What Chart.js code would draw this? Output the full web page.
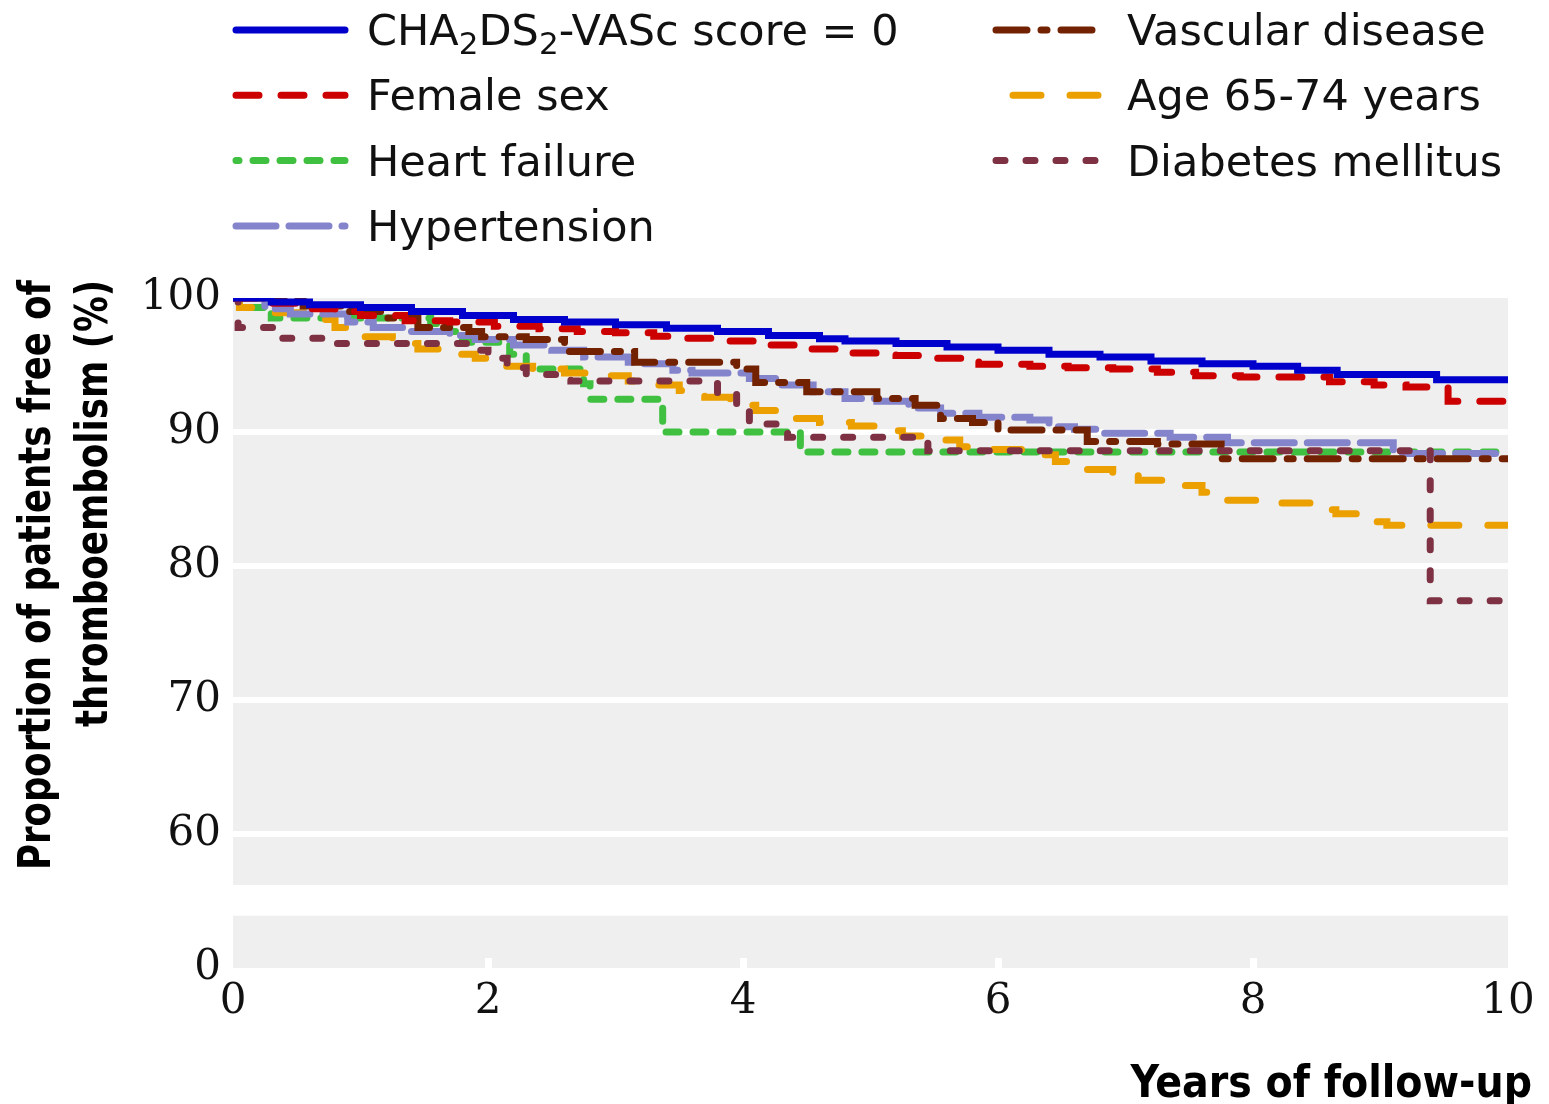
<!DOCTYPE html>
<html>
<head>
<meta charset="utf-8">
<script src="https://cdn.jsdelivr.net/npm/chart.js@4.4.1/dist/chart.umd.min.js"></script>
<style>
  html, body { margin: 0; padding: 0; background: #fff; }
</style>
</head>
<body>
<canvas id="kmChart" width="1549" height="1104"></canvas>
<script>
// axis ticks
const xTickValues = [0, 2, 4, 6, 8, 10];
const yTickValues = [50, 60, 70, 80, 90, 100];
const yTickLabels = ["0", "60", "70", "80", "90", "100"];
const yGridValues = [60, 70, 80, 90];
const axisBreak = [53.9, 56.2];

// series names (legend order)
const seriesNames = [
  "CHA\u2082DS\u2082-VASc score = 0",
  "Female sex",
  "Heart failure",
  "Hypertension",
  "Vascular disease",
  "Age 65-74 years",
  "Diabetes mellitus"
];

// Kaplan-Meier curves (years, % free of event)
const cha0Years = [0, 0.3, 0.6, 1.0, 1.4, 1.8, 2.2, 2.6, 3.0, 3.4, 3.8, 4.2, 4.6, 4.8, 5.2, 5.6, 6.0, 6.4, 6.8, 7.2, 7.6, 8.0, 8.35, 8.66, 9.44, 10];
const cha0Pct = [100, 99.7, 99.5, 99.3, 99.0, 98.7, 98.4, 98.2, 98.0, 97.75, 97.5, 97.2, 96.95, 96.8, 96.6, 96.35, 96.1, 95.8, 95.6, 95.3, 95.1, 94.9, 94.6, 94.3, 93.9, 93.9];

const femaleYears = [0, 0.2, 0.5, 0.8, 1.0, 1.35, 1.7, 2.05, 2.4, 2.7, 3.0, 3.3, 3.5, 3.85, 4.2, 4.5, 4.85, 5.2, 5.5, 5.85, 6.25, 6.55, 6.9, 7.25, 7.55, 7.9, 8.6, 8.95, 9.2, 9.53, 10];
const femalePct = [100, 99.6, 99.2, 99.0, 98.7, 98.3, 98.2, 97.9, 97.7, 97.5, 97.4, 97.15, 97.0, 96.8, 96.5, 96.2, 95.9, 95.7, 95.5, 95.05, 94.9, 94.8, 94.7, 94.45, 94.2, 94.1, 93.75, 93.5, 93.35, 92.3, 92.3];

const hfYears = [0, 0.05, 0.3, 1.55, 1.7, 1.8, 2.17, 2.3, 2.75, 2.8, 3.37, 4.45, 10];
const hfPct = [100, 99.3, 98.5, 98.1, 97.5, 96.7, 95.8, 94.7, 93.6, 92.45, 90.0, 88.5, 88.5];

const htnYears = [0, 0.25, 0.45, 0.9, 1.1, 1.35, 1.7, 1.9, 2.2, 2.5, 2.75, 3.1, 3.2, 3.45, 3.6, 4.05, 4.3, 4.55, 4.8, 5.05, 5.3, 5.55, 5.85, 6.25, 6.4, 6.6, 6.8, 7.35, 7.8, 9.1, 10];
const htnPct = [100, 99.2, 98.8, 98.2, 97.8, 97.5, 97.2, 96.9, 96.5, 96.1, 95.6, 95.2, 95.1, 94.6, 94.4, 94.0, 93.5, 93.0, 92.5, 92.3, 91.8, 91.4, 91.1, 90.9, 90.4, 90.2, 89.9, 89.6, 89.2, 88.4, 88.4];

const vascYears = [0, 0.55, 0.9, 1.2, 1.45, 1.85, 1.95, 2.3, 2.6, 3.15, 3.95, 4.1, 4.5, 5.05, 5.35, 5.55, 5.8, 6.0, 6.7, 7.25, 7.75, 10];
const vascPct = [100, 99.4, 99.0, 98.5, 97.8, 97.5, 97.1, 96.9, 96.0, 95.2, 94.7, 93.7, 93.0, 92.5, 92.0, 91.0, 90.7, 90.15, 89.3, 89.1, 88.0, 88.0];

const ageYears = [0, 0.05, 0.3, 0.55, 0.8, 1.0, 1.25, 1.45, 1.7, 1.9, 2.1, 2.35, 2.6, 2.85, 3.1, 3.3, 3.5, 3.7, 3.9, 4.1, 4.3, 4.6, 4.85, 5.05, 5.25, 5.5, 5.7, 5.95, 6.2, 6.45, 6.7, 6.9, 7.1, 7.35, 7.6, 7.8, 8.2, 8.5, 8.65, 8.85, 9.05, 10];
const agePct = [100, 99.3, 98.9, 98.4, 97.8, 97.1, 96.6, 96.2, 95.8, 95.5, 94.9, 94.7, 94.4, 94.2, 93.8, 93.5, 93.1, 92.6, 92.0, 91.6, 91.0, 90.7, 90.45, 90.1, 89.7, 89.4, 88.9, 88.7, 88.3, 87.8, 87.2, 86.8, 86.4, 86.0, 85.5, 84.9, 84.7, 84.2, 83.9, 83.3, 83.05, 83.05];

const dmYears = [0, 0.04, 0.38, 0.7, 1.85, 2.0, 2.15, 2.3, 2.65, 3.8, 3.95, 4.05, 4.35, 5.45, 9.39, 10];
const dmPct = [100, 97.8, 97.0, 96.6, 96.1, 95.5, 94.8, 94.3, 93.8, 92.9, 92.0, 90.6, 89.6, 88.6, 77.4, 77.4];

function toPoints(years, pct) {
  return years.map((t, i) => ({ x: t, y: pct[i] }));
}

const seriesData = [
  toPoints(cha0Years, cha0Pct),
  toPoints(femaleYears, femalePct),
  toPoints(hfYears, hfPct),
  toPoints(htnYears, htnPct),
  toPoints(vascYears, vascPct),
  toPoints(ageYears, agePct),
  toPoints(dmYears, dmPct)
];

// look of each curve
const lineColors = ["#0000cd", "#cc0000", "#40c040", "#8484cc", "#722200", "#eba000", "#7d3142"];
const lineDashes = [[], [23, 22], [13, 14], [40, 13], [31, 14, 6, 14], [28, 29], [9, 21]];
const legendDashOffsets = [0, 0, 10, 0, 0, 40, 0];
const drawOrder = [0, 1, 6, 4, 3, 5, 2];

const tickFont = { family: "'DejaVu Serif', serif", size: 42 };
const legendFontSize = 43;

// grey plot panel + white gap of the broken axis
const panel = {
  id: "panel",
  beforeDraw(chart) {
    const { ctx, chartArea: a } = chart;
    ctx.save();
    ctx.fillStyle = "#efefef";
    ctx.fillRect(a.left, a.top, a.right - a.left, a.bottom - a.top);
    ctx.restore();
  },
  beforeDatasetsDraw(chart) {
    const { ctx, chartArea: a } = chart;
    const y = chart.scales.y;
    const top = y.getPixelForValue(axisBreak[1]);
    const bottom = y.getPixelForValue(axisBreak[0]);
    ctx.save();
    ctx.fillStyle = "#fff";
    ctx.fillRect(a.left - 1, top, a.right - a.left + 2, bottom - top);
    ctx.restore();
  }
};

// draws a label, turning "₂" into a real lowered small 2
function drawLabel(ctx, text, x, y) {
  const big = legendFontSize + "px 'DejaVu Sans', sans-serif";
  const small = Math.round(legendFontSize * 0.72) + "px 'DejaVu Sans', sans-serif";
  text.split(/(\u2082)/).forEach(part => {
    if (!part) return;
    if (part === "\u2082") {
      ctx.font = small;
      ctx.fillText("2", x, y + 9);
      x += ctx.measureText("2").width;
    } else {
      ctx.font = big;
      ctx.fillText(part, x, y);
      x += ctx.measureText(part).width;
    }
  });
}

// two-column legend and axis titles
const decorations = {
  id: "decorations",
  afterDraw(chart) {
    const ctx = chart.ctx;

    chart.data.datasets.forEach((ds, i) => {
      const col = i < 4 ? 0 : 1;
      const row = i < 4 ? i : i - 4;
      const x0 = col ? 993 : 233;
      const y0 = 30 + row * 65.3;
      ctx.save();
      ctx.strokeStyle = ds.borderColor;
      ctx.lineWidth = 7;
      ctx.lineCap = "round";
      ctx.setLineDash(ds.borderDash);
      ctx.lineDashOffset = legendDashOffsets[i];
      ctx.beginPath();
      ctx.moveTo(x0 + 3, y0);
      ctx.lineTo(x0 + 112, y0);
      ctx.stroke();
      ctx.setLineDash([]);
      ctx.fillStyle = "#111";
      ctx.textBaseline = "alphabetic";
      drawLabel(ctx, ds.label, x0 + 134, y0 + 15);
      ctx.restore();
    });

    // y axis title, two lines, end-aligned at the top
    const titleFont = "bold 44px 'DejaVu Sans Condensed', 'DejaVu Sans', sans-serif";
    ctx.save();
    ctx.fillStyle = "#000";
    ctx.font = titleFont;
    ctx.textAlign = "right";
    ctx.textBaseline = "alphabetic";
    ctx.translate(50, 280);
    ctx.rotate(-Math.PI / 2);
    ctx.fillText("Proportion of patients free of", 0, 0, 590);
    ctx.restore();

    ctx.save();
    ctx.fillStyle = "#000";
    ctx.font = titleFont;
    ctx.textAlign = "right";
    ctx.textBaseline = "alphabetic";
    ctx.translate(107, 280);
    ctx.rotate(-Math.PI / 2);
    ctx.fillText("thromboembolism (%)", 0, 0, 447);
    ctx.restore();

    // x axis title
    ctx.save();
    ctx.fillStyle = "#000";
    ctx.font = titleFont;
    ctx.textAlign = "right";
    ctx.textBaseline = "alphabetic";
    ctx.fillText("Years of follow-up", 1532, 1097, 407);
    ctx.restore();
  }
};

new Chart(document.getElementById("kmChart"), {
  type: "line",
  data: {
    datasets: seriesNames.map((name, i) => ({
      label: name,
      data: seriesData[i],
      borderColor: lineColors[i],
      borderDash: lineDashes[i],
      borderWidth: 7,
      borderCapStyle: "round",
      stepped: "before",
      pointRadius: 0,
      fill: false,
      order: drawOrder[i]
    }))
  },
  options: {
    responsive: false,
    animation: false,
    layout: { padding: { top: 298, right: 41, bottom: 0, left: 0 } },
    plugins: {
      legend: { display: false },
      tooltip: { enabled: false }
    },
    scales: {
      x: {
        type: "linear",
        min: 0,
        max: 10,
        afterFit(scale) {
          scale.height = 136;
          scale.paddingLeft = 0;
          scale.paddingRight = 0;
        },
        afterBuildTicks(scale) { scale.ticks = xTickValues.map(v => ({ value: v })); },
        ticks: { padding: 19, font: tickFont, color: "#111", maxRotation: 0 },
        grid: {
          drawOnChartArea: false,
          drawTicks: true,
          tickLength: -10,
          tickWidth: 7,
          tickColor: c => (c.tick && c.tick.value > 0 && c.tick.value < 10) ? "#fff" : "rgba(0,0,0,0)"
        },
        border: { display: false }
      },
      y: {
        type: "linear",
        min: 50,
        max: 100,
        afterFit(scale) { scale.width = 233; },
        afterBuildTicks(scale) { scale.ticks = yTickValues.map(v => ({ value: v })); },
        ticks: {
          padding: 12,
          font: tickFont,
          color: "#111",
          callback: v => yTickLabels[yTickValues.indexOf(v)]
        },
        grid: {
          drawTicks: false,
          lineWidth: 6,
          color: c => (c.tick && yGridValues.includes(c.tick.value)) ? "#fff" : "rgba(0,0,0,0)"
        },
        border: { display: false }
      }
    }
  },
  plugins: [panel, decorations]
});
</script>
</body>
</html>
